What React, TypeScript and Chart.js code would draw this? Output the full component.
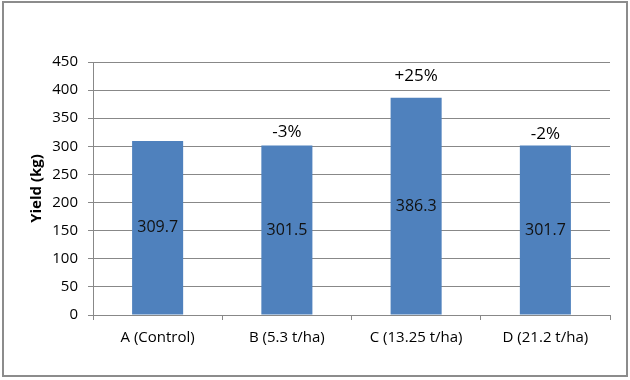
import React, { useEffect, useRef } from "react";
import { Chart, registerables } from "chart.js";

Chart.register(...registerables);

const categories = ["A (Control)", "B (5.3 t/ha)", "C (13.25 t/ha)", "D (21.2 t/ha)"];
const yieldValues = [309.7, 301.5, 386.3, 301.7];
const changeLabels = ["", "-3%", "+25%", "-2%"];
const yTicks = [0, 50, 100, 150, 200, 250, 300, 350, 400, 450];

const FONT = "'Open Sans', 'Liberation Sans', sans-serif";
const GRID = "#888888";
const BAR = "#4F81BD";

const labelPlugin = {
  id: "barLabels",
  afterDatasetsDraw(chart: any) {
    const { ctx } = chart;
    const meta = chart.getDatasetMeta(0);
    const annOffsets = [0, 13, 22, 11];
    ctx.save();
    ctx.textAlign = "center";
    ctx.textBaseline = "middle";
    meta.data.forEach((bar: any, i: number) => {
      const v = yieldValues[i];
      const base = bar.base;
      ctx.fillStyle = "#111111";
      ctx.font = `16px ${FONT}`;
      ctx.fillText(v.toFixed(1), bar.x, (bar.y + base) / 2);
      if (changeLabels[i]) {
        ctx.font = `17px ${FONT}`;
        ctx.fillStyle = "#000000";
        ctx.fillText(changeLabels[i], bar.x, bar.y - annOffsets[i]);
      }
    });
    ctx.restore();
  },
};

export default function App() {
  const ref = useRef<HTMLCanvasElement | null>(null);

  useEffect(() => {
    document.body.style.margin = "0";
    const canvas = ref.current;
    if (!canvas) return;
    const chart = new Chart(canvas, {
      type: "bar",
      data: {
        labels: categories,
        datasets: [
          {
            data: yieldValues,
            backgroundColor: BAR,
            borderWidth: 0,
            barPercentage: 0.395,
            categoryPercentage: 1,
          },
        ],
      },
      options: {
        responsive: false,
        animation: false,
        devicePixelRatio: 1,
        layout: { padding: { left: 20, top: 62, right: 20, bottom: 0 } },
        plugins: {
          legend: { display: false },
          tooltip: { enabled: false },
        },
        scales: {
          x: {
            afterFit: (s: any) => {
              s.height = 65;
            },
            grid: {
              offset: true,
              drawOnChartArea: false,
              drawTicks: true,
              tickLength: 5,
              color: GRID,
            },
            border: { display: true, color: GRID, width: 1 },
            ticks: {
              color: "#000000",
              font: { family: FONT, size: 15 },
              padding: 9,
              maxRotation: 0,
            },
          },
          y: {
            min: 0,
            max: 450,
            afterFit: (s: any) => {
              s.width = 73;
            },
            afterBuildTicks: (s: any) => {
              s.ticks = yTicks.map((v) => ({ value: v }));
            },
            grid: {
              color: GRID,
              tickLength: 5,
              drawTicks: true,
            },
            border: { display: true, color: GRID, width: 1 },
            ticks: {
              color: "#000000",
              font: { family: FONT, size: 15 },
              padding: 10,
            },
            title: {
              display: true,
              text: "Yield (kg)",
              color: "#000000",
              font: { family: FONT, size: 15, weight: "bold" },
              padding: { top: 8, bottom: 0 },
            },
          },
        },
      },
      plugins: [labelPlugin],
    });
    return () => chart.destroy();
  }, []);

  return (
    <div style={{ position: "fixed", left: 0, top: 0, width: 630, height: 380, background: "#ffffff" }}>
      <canvas ref={ref} width={630} height={380} style={{ position: "absolute", left: 0, top: 0 }} />
      <div
        style={{
          position: "absolute",
          left: 2,
          top: 1,
          width: 626,
          height: 376,
          border: "2px solid #8c8c8c",
          boxSizing: "border-box",
          pointerEvents: "none",
        }}
      />
    </div>
  );
}
